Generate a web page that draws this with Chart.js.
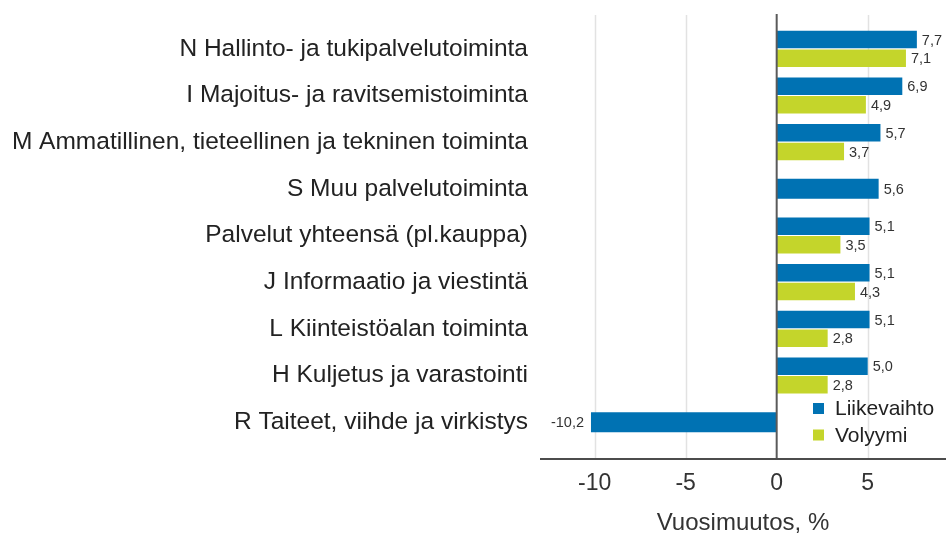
<!DOCTYPE html>
<html><head><meta charset="utf-8">
<script src="https://cdn.jsdelivr.net/npm/chart.js@4.4.1/dist/chart.umd.min.js"></script>
<style>html,body{margin:0;padding:0;background:#fff;overflow:hidden}#wrap{width:946px;height:536px}</style>
</head><body><div id="wrap"><canvas id="c" width="946" height="536"></canvas></div>
<script>
const categories = [
  'N Hallinto- ja tukipalvelutoiminta',
  'I Majoitus- ja ravitsemistoiminta',
  'M Ammatillinen, tieteellinen ja tekninen toiminta',
  'S Muu palvelutoiminta',
  'Palvelut yhteensä (pl.kauppa)',
  'J Informaatio ja viestintä',
  'L Kiinteistöalan toiminta',
  'H Kuljetus ja varastointi',
  'R Taiteet, viihde ja virkistys'
];
const liikevaihto = [7.7, 6.9, 5.7, 5.6, 5.1, 5.1, 5.1, 5.0, -10.2];
const volyymi = [7.1, 4.9, 3.7, null, 3.5, 4.3, 2.8, 2.8, null];
const seriesNames = ['Liikevaihto', 'Volyymi'];
const seriesColors = ['#0072B3', '#C4D52B'];
const xTickValues = [-10, -5, 0, 5];
const xTitle = 'Vuosimuutos, %';

const FONT = '"Liberation Sans", Arial, sans-serif';
const fmt = v => v.toFixed(1).replace('.', ',');

const decor = {
  id: 'decor',
  beforeDatasetsDraw(chart) {
    const {ctx, chartArea: a, scales: {x}} = chart;
    ctx.save();
    ctx.strokeStyle = '#e2e2e2';
    ctx.lineWidth = 1.5;
    xTickValues.forEach(v => {
      if (v === 0) return;
      const px = Math.round(x.getPixelForValue(v)) + 0.5;
      ctx.beginPath(); ctx.moveTo(px, a.top - 10.5); ctx.lineTo(px, a.bottom + 12.5); ctx.stroke();
    });
    ctx.restore();
  },
  afterDatasetsDraw(chart) {
    const {ctx, chartArea: a, scales: {x}} = chart;
    ctx.save();
    const z = x.getPixelForValue(0);
    ctx.strokeStyle = '#5a5a5a';
    ctx.lineWidth = 2;
    ctx.beginPath(); ctx.moveTo(z, a.top - 11.5); ctx.lineTo(z, a.bottom + 12.5); ctx.stroke();
    ctx.strokeStyle = '#111';
    ctx.lineWidth = 1.5;
    ctx.beginPath(); ctx.moveTo(a.left, a.bottom + 13.5); ctx.lineTo(a.right, a.bottom + 13.5); ctx.stroke();
    ctx.font = '14.5px ' + FONT;
    ctx.fillStyle = '#333';
    ctx.textBaseline = 'middle';
    chart.data.datasets.forEach((ds, di) => {
      const meta = chart.getDatasetMeta(di);
      meta.data.forEach((el, i) => {
        const v = ds.data[i];
        if (v === null || v === undefined) return;
        if (v >= 0) { ctx.textAlign = 'left'; ctx.fillText(fmt(v), el.x + 5, el.y + 1); }
        else { ctx.textAlign = 'right'; ctx.fillText(fmt(v), el.x - 7, el.y + 1); }
      });
    });
    ctx.font = '21px ' + FONT;
    ctx.textAlign = 'left';
    chart.data.datasets.forEach((ds, di) => {
      const cy = a.bottom - 37 + di * 26.5;
      const sx = a.right - 133;
      ctx.fillStyle = ds.backgroundColor;
      ctx.fillRect(sx, cy - 5.5, 11, 11);
      ctx.fillStyle = '#222';
      ctx.fillText(ds.label, sx + 22, cy + 1);
    });
    ctx.restore();
  }
};

new Chart(document.getElementById('c'), {
  type: 'bar',
  data: {
    labels: categories,
    datasets: [
      {label: seriesNames[0], data: liikevaihto, backgroundColor: seriesColors[0]},
      {label: seriesNames[1], data: volyymi, backgroundColor: seriesColors[1]}
    ]
  },
  options: {
    indexAxis: 'y',
    responsive: false,
    animation: false,
    devicePixelRatio: 1,
    layout: {padding: {top: 25.5, right: 0, bottom: 0, left: 0}},
    datasets: {bar: {categoryPercentage: 0.8, barPercentage: 0.94, maxBarThickness: 20, skipNull: true}},
    plugins: {legend: {display: false}, tooltip: {enabled: false}},
    scales: {
      y: {
        afterFit(s) { s.width = 540; },
        grid: {display: false, drawTicks: true, tickLength: 12},
        border: {display: false},
        ticks: {autoSkip: false, padding: 0, color: '#222', font: {family: FONT, size: 24.5}}
      },
      x: {
        min: -13, max: 9.3,
        afterFit(s) { s.height = 90.5; },
        afterBuildTicks(s) { s.ticks = xTickValues.map(v => ({value: v})); },
        grid: {display: false, drawTicks: false},
        border: {display: false},
        ticks: {padding: 24, color: '#333', font: {family: FONT, size: 23}, callback: v => String(v)},
        title: {display: true, text: xTitle, color: '#333', font: {family: FONT, size: 24}, padding: {top: 0, bottom: -2}}
      }
    }
  },
  plugins: [decor]
});
</script></body></html>
